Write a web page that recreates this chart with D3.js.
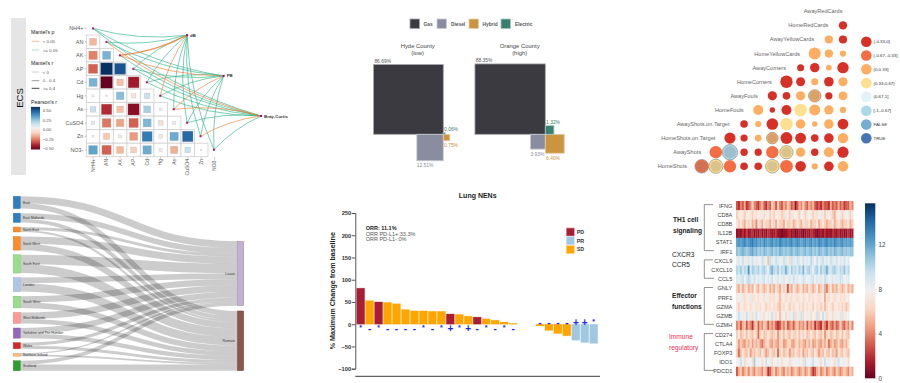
<!DOCTYPE html>
<html>
<head>
<meta charset="utf-8">
<script src="https://cdn.jsdelivr.net/npm/d3@7"></script>
<style>
  html, body { margin: 0; padding: 0; background: #fff; }
  svg { display: block; }
  text { font-family: "Liberation Sans", Arial, sans-serif; }
</style>
</head>
<body>
<div id="chart"></div>
<script>
// ---- panel A: correlation matrix with mantel links
const envNames = ["NH4+", "AN", "AK", "AP", "Cd", "Hg", "As", "CuSO4", "Zn", "NO3-"];
const envCorr = [
  [],
  [-0.2],
  [-0.3, 0.28],
  [-0.36, 0.6, 0.52],
  [0.28, -0.6, -0.18, -0.5],
  [0.02, 0.01, 0.25, -0.08, 0.13],
  [0.13, -0.46, -0.18, -0.54, 0.2, 0.03],
  [0.05, -0.32, -0.24, -0.36, 0.27, -0.09, 0.04],
  [-0.01, -0.16, -0.04, -0.26, 0.42, -0.06, 0.3, 0.47],
  [0.32, -0.36, -0.2, -0.14, 0.3, 0.04, -0.22, 0.13, 0.01]
];
const mantelTargets = ["dB", "PB", "Bray-Curtis"];
// one row per env variable, one value per target
const mantelSignif = [
  [0, 0, 0], [0, 0, 1], [1, 1, 0], [0, 0, 0], [0, 0, 0],
  [1, 0, 0], [0, 1, 1], [0, 0, 0], [0, 0, 1], [0, 0, 0]
];
const mantelR = [
  [0.2, 0.2, 0.2], [0.2, 0.2, 0.2], [0.45, 0.2, 0.2], [0.2, 0.2, 0.2], [0.2, 0.2, 0.2],
  [0.2, 0.2, 0.2], [0.2, 0.2, 0.3], [0.2, 0.2, 0.2], [0.2, 0.2, 0.3], [0.2, 0.2, 0.2]
];
const mantelPLabels = ["< 0.05", ">= 0.05"];
const mantelRLabels = ["< 0", "0 - 0.4", ">= 0.4"];
const pearsonTicks = [0.5, 0.25, 0, -0.25, -0.5];

// ---- panel B: vehicle share squares
const fuelTypes = ["Gas", "Diesel", "Hybrid", "Electric"];
const fuelColors = ["#3a3a40", "#8a8d9f", "#cc9440", "#3a8070"];
const countyNames = [["Hyde County", "(low)"], ["Orange County", "(high)"]];
const hydeShares = [86.69, 12.51, 0.75, 0.06];
const orangeShares = [88.35, 3.93, 6.40, 1.32];

// ---- panel C: match stats correlogram
const statNames = ["AwayRedCards", "HomeRedCards", "AwayYellowCards", "HomeYellowCards", "AwayCorners", "HomeCorners",
  "AwayFouls", "HomeFouls", "AwayShots.on.Target", "HomeShots.on.Target", "AwayShots", "HomeShots"];
const statClassLabels = ["(-0.33,0]", "(-0.67,-0.33]", "(0,0.33]", "(0.33,0.67]", "(0.67,1]", "[-1,-0.67]", "FALSE", "TRUE"];
const statClassColors = ["#d73027", "#f46d43", "#fdae61", "#fee090", "#e0f3f8", "#abd9e9", "#74add1", "#4575b4"];
// listed from the rightmost column to the left
const statClass = [
  [],
  [0],
  [0, 2],
  [2, 2, 2],
  [0, 2, 0, 0],
  [2, 0, 2, 0, 0],
  [2, 0, 2, 2, 0, 0],
  [2, 2, 2, 3, 0, 0, 2],
  [0, 2, 2, 2, 3, 0, 2, 0],
  [2, 0, 0, 0, 0, 2, 2, 0, 0],
  [0, 2, 0, 2, 3, 1, 0, 0, 5, 1],
  [2, 0, 2, 0, 1, 3, 0, 0, 1, 3, 1]
];
const statStrength = [
  [],
  [42],
  [41, 41],
  [31, 41, 60],
  [57, 29, 47, 35],
  [46, 48, 35, 45, 62],
  [44, 36, 62, 46, 38, 46],
  [31, 46, 55, 63, 50, 27, 50],
  [54, 48, 27, 47, 63, 58, 31, 38],
  [52, 48, 38, 54, 60, 58, 34, 36, 56],
  [56, 50, 37, 47, 66, 62, 36, 37, 77, 62],
  [52, 48, 31, 53, 64, 68, 38, 38, 62, 71, 68]
];
const statMarked = ["6-2", "9-5", "10-4", "10-8", "11-5", "11-9", "11-10"];

// ---- panel D: referendum flows
const regionNames = ["East", "East Midlands", "North East", "North West", "South East", "London", "South West",
  "West Midlands", "Yorkshire and The Humber", "Wales", "Northern Ireland", "Scotland"];
const regionColors = ["#2f7fc0", "#2f7fc0", "#ff8c2a", "#ff8c2a", "#98df8a", "#aec7e8", "#98df8a",
  "#ff9896", "#9467bd", "#d62728", "#ffbb78", "#2ca02c"];
const leaveVotes = [1880, 1475, 778, 1966, 2567, 1513, 1669, 1755, 1581, 855, 349, 1018];
const remainVotes = [1448, 1033, 563, 1699, 2391, 2264, 1503, 1207, 1159, 772, 441, 1662];
const voteSides = ["Leave", "Remain"];
const voteColors = ["#c5b0d5", "#8c564b"];

// ---- panel E: waterfall
const changeValues = [81, 53, 50, 49, 46, 33, 30, 30, 29, 29, 23, 22, 18, 16, 12, 9, 5, 2, 0, 0, -4, -14, -21, -26, -36, -41, -43];
const changeResponse = ["PD", "SD", "PD", "SD", "SD", "SD", "SD", "SD", "SD", "SD", "PD", "SD", "SD", "PD", "SD", "SD", "SD", "SD",
  "SD", "SD", "SD", "SD", "SD", "SD", "PR", "PR", "PR"];
const changeMarks = ["*", "-", "*", "-", "-", "-", "-", "*", "-", "*", "+", "*", "+", "-", "*", "-", "*", "-", "", "", "-", "-", "-", "-", "+", "+", "*"];
const responseTypes = ["PD", "PR", "SD"];
const responseColors = ["#ab1c35", "#a0c8e0", "#ffa500"];
const changeTicks = [250, 200, 150, 100, 50, 0, -50, -100];
const orrNotes = ["ORR: 11.1%", "ORR PD-L1+:33.3%", "ORR PD-L1-:0%"];

// ---- panel F: expression heatmap
const geneNames = ["IFNG", "CD8A", "CD8B", "IL12B", "STAT1", "IRF1", "CXCL9", "CXCL10", "CCL5", "GNLY", "PRF1", "GZMA", "GZMB", "GZMH", "CD274", "CTLA4", "FOXP3", "IDO1", "PDCD1"];
const geneExpression = [
  [3,2,4,3,5,2, 3,4,6,4,3,2, 4,5,3,2,4,3, 6,5,3,6,4,3, 5,4,6,5,3,4, 1,3,5,4,6,4, 3,5,4,5,3,2, 3,2,4,3,3,2, 5,3,4,3,5,3, 4,2,3,3,5,4],
  [6,7,7.5,7,6,7, 7.5,7,6,7,6.5,7.5, 7,8.5,6.5,7,7.5,6, 7,6,7.5,7,7,6, 6.5,7,8,6,7,7, 7.5,7,6,8,7,6, 7,8,7,6,7,6.5, 8,7,8.5,6,7,7.5, 7,6,5,7,8,7, 6,7,8,8.5,6,7],
  [7,6,7,6,5,7, 6,7,5,6,4,7, 6,5,7,6,6,5, 7,6,5,7,6,6, 5,7,6,6,7,5, 6,7,6,5,7,6, 6,7,5,6,6,7, 5,6,7,6,5,6, 6,7,5,6,7,6, 5,6,6,7,5,6],
  [1,1.5,1,2,1,2.5, 1,1.5,2,1,1.5,1, 2,1,1.5,1,2,1.5, 1,1.5,2,1,1,0.5, 1,1,1.5,2,1,1.5, 0.5,1,1.5,1,0.5,1, 1.5,1,2,1.5,1,0.5, 1,1.5,1,2,1,1.5, 1,2,1.5,1,2,1, 1.5,1,1,2,1,1.5],
  [12,12.5,12,12.5,13,12, 12.5,13,13.5,12.5,13,12, 12.5,12,13,12.5,12,12.5, 13,12,12.5,12,13,12.5, 12,12.5,12,12.5,13,12, 12.5,13,12.5,12,12.5,13, 12,12.5,13,12,12.5,12, 13,12.5,12,12.5,13,12, 12.5,12,13,12.5,12,12.5, 13,12,12.5,12,12.5,12],
  [11,10.5,11,11.5,11,10.5, 11,11.5,12,11,11.5,10.5, 11,10.5,11.5,11,10.5,11, 11.5,10.5,11,10.5,11.5,11, 10.5,11,10.5,11,11.5,10.5, 11,11.5,11,10.5,11,11.5, 10.5,11,11.5,10.5,11,10.5, 11.5,11,10.5,11,11.5,10.5, 11,10.5,11.5,11,10.5,11, 11.5,10.5,11,10.5,11,11],
  [8.5,9,7.5,9.5,8.5,7, 9,8.5,9.5,7.5,9,8.5, 7.5,9.5,9,8,5.5,9.5, 9,8.5,9.5,9,8.5,7.5, 9.5,9,8.5,6.5,9.5,9, 8.5,9.5,9,7.5,9.5,8.5, 9,8.5,10,9,7.5,9.5, 8.5,9,9.5,8.5,9,7.5, 9.5,9,8.5,9.5,7.5,9, 8.5,9.5,8,9],
  [10,9.5,10.5,9,10,9.5, 12.5,9,10.5,10,9.5,10.5, 9,10,10.5,9.5,8.5,10.5, 11.5,10,9.5,10.5,9,10, 9.5,11.5,10,8.5,10.5,9.5, 10,9,10.5,9.5,11.5,9, 10,10.5,9.5,8.5,10,10.5, 9,10.5,9.5,10,11.5,9.5, 9,10,10.5,9.5,9,10, 9.5,11,9,10],
  [9,8.5,9,9.5,8,9, 10,9,8.5,9.5,8,9, 8.5,9,9.5,8,9,8.5, 9.5,8,8.5,9,8,8.5, 9,7.5,8.5,9,8,9.5, 8.5,9,8,8.5,9.5,9, 8,8.5,9,9.5,8,9, 8.5,9,8,9.5,9,8, 8.5,9,7.5,9,8.5,9.5, 9,8,8.5,9],
  [6,5,7,5,6,7, 5,6,5,8,6,5, 7,6,5,6,7,5, 6,5,7,6,5,7, 6,7,3,6,5,7, 6,5,6,7,5,6, 5,7,6,5,6,7, 5,6,9,5,4,6, 7,5,6,5,7,6, 5,6,7,5,6,5],
  [7,7.5,8.5,7,6.5,7.5, 7,8.5,6.5,7,7.5,6.5, 7.5,7,6.5,8.5,7,6.5, 7,6.5,7.5,7,5.5,7, 7.5,6.5,7,7,6.5,7.5, 7,6.5,7,7.5,6.5,7, 7.5,6.5,7,6.5,7.5,7, 6.5,7,7.5,5,7,6.5, 7.5,7,6.5,7,7.5,6.5, 7,6.5,7.5,7],
  [7,6,7.5,7,6.5,7, 7.5,6.5,7,8.5,6.5,7, 6.5,7.5,7,6,7,6.5, 7.5,6.5,7,6,5.5,7, 6.5,7.5,7,6,7,6.5, 7,7.5,6.5,7,6,7.5, 6.5,7,7,6,7.5,6.5, 7,6,7,5.5,6.5,7.5, 7,6,7,7.5,6.5,7, 6,7,5.5,6.5],
  [8,9.5,8.5,7,8,9.5, 8.5,7,6.5,8.5,9.5,8, 7,8.5,6.5,8,7,8.5, 9.5,7,6.5,8,5.5,7, 8,6.5,8.5,7,8,9.5, 6.5,7,8.5,9.5,6.5,8, 7,8.5,6.5,8,7,9.5, 6.5,8,9.5,8.5,6.5,7, 8,6.5,8.5,7,8,9, 6.5,7,8.5,8],
  [4,5,3,5,6,3, 5,4,2,5,6,3, 5,4,6,5,3,5, 4,5,3,2,3,5, 4,6,3,4,5,3, 5,6,4,5,4,6, 3,5,4,5,2,4, 3,2,5,4,2,5, 4,3,5,3,4,6, 4,3,5,4,6,4],
  [6,7,5.5,6,7,5.5, 7,6,5.5,7,6,3.5, 6,7,5.5,6,7,6, 5.5,6,7,4.5,6,7, 5.5,7,6,5.5,7,6, 6,7,5.5,7,6,7, 5.5,6,7,6,5.5,7, 6,5.5,7,4.5,6,7, 5.5,6,7,5.5,6,7, 5.5,7,6,5.5],
  [6.5,4.5,6,5,4.5,6, 5,6.5,4.5,6,5,6, 4.5,3.5,5,6,6.5,5, 4.5,6,5,4.5,6,6.5, 4.5,5,6,6.5,5,4.5, 6,6.5,5,6,5,4.5, 6,5,6.5,4.5,5,6, 5,4.5,6,5,6.5,3.5, 5,6,4.5,5,6.5,5, 4.5,6,5,6.5],
  [6,3.5,5.5,7,6,5.5, 7,4.5,6,5.5,7,6, 5.5,7,6,4.5,5.5,7, 6,5.5,7,3.5,6,7, 5.5,6,7,4.5,6,5.5, 7,6,5.5,7,4.5,6, 5.5,7,6,5.5,7,6, 4.5,6,5.5,7,6,5.5, 7,5.5,6,4.5,7,6, 5.5,7,6,5.5],
  [8,7.5,9.5,8,6.5,8.5, 7.5,8,6.5,10.5,7.5,8.5, 8,6.5,7.5,9.5,8,8.5, 6.5,8,7.5,8.5,8,6.5, 8,7.5,8,6.5,8.5,8, 7.5,8,8.5,7.5,6.5,9.5, 8,7.5,8.5,9.5,8,7.5, 8.5,6.5,8,9.5,7.5,8.5, 8,7.5,6.5,8.5,9.5,8, 7.5,8.5,8,6.5],
  [3,5,6,4,5,6, 4,6,5,4,6,5, 5,4,6,5,2,3, 5,6,4,5,6,5, 4,6,5,6,4,5, 6,5,4,5,6,4, 5,6,4,2,3,5, 6,4,5,6,4,5, 6,5,4,6,5,4, 5,6,5,4,6,5]
];
const geneGroups = [
  { from: "IFNG", to: "IRF1", lines: ["TH1 cell", "signaling"] },
  { from: "CXCL9", to: "CCL5", lines: ["CXCR3", "CCR5"] },
  { from: "GNLY", to: "GZMH", lines: ["Effector", "functions"] },
  { from: "CD274", to: "PDCD1", lines: ["Immune", "regulatory"] }
];
const expressionTicks = [0, 4, 8, 12];

const svg = d3.select("#chart")
  .append("svg")
    .attr("width", 900)
    .attr("height", 383);

// ================ panel A ================
const panelA = svg.append("g");

panelA.append("rect")
  .attr("x", 11).attr("y", 18)
  .attr("width", 15).attr("height", 157)
  .attr("fill", "#e5e5e5");
panelA.append("text")
  .attr("transform", "translate(22.5,98)rotate(-90)")
  .attr("text-anchor", "middle")
  .style("font-size", "9.5px")
  .style("fill", "#111")
  .text("ECS");

const rowA = d3.scaleBand().domain(envNames).range([21.5, 156.7]);
const colA = d3.scaleBand().domain(envNames).range([86.3, 221.5]);
const pearson = v => d3.interpolateRdBu((v + 0.6) / 1.2);
const cellSize = d3.scaleSqrt().domain([0, 0.6]).range([0, 12]);

envCorr.forEach((cells, i) => {
  const cellG = panelA.selectAll(null)
    .data(cells)
    .join("g")
      .attr("transform", (d, j) => "translate(" + colA(envNames[j]) + "," + rowA(envNames[i]) + ")");
  cellG.append("rect")
    .attr("width", colA.bandwidth())
    .attr("height", rowA.bandwidth())
    .attr("fill", "#fff")
    .attr("stroke", "#cfcfcf")
    .attr("stroke-width", 0.8);
  cellG.append("rect")
    .attr("x", d => (colA.bandwidth() - cellSize(Math.abs(d))) / 2)
    .attr("y", d => (rowA.bandwidth() - cellSize(Math.abs(d))) / 2)
    .attr("width", d => cellSize(Math.abs(d)))
    .attr("height", d => cellSize(Math.abs(d)))
    .attr("fill", d => pearson(d))
    .attr("stroke", "#aaa")
    .attr("stroke-opacity", 0.5)
    .attr("stroke-width", 0.5);
});

const axisLeftA = panelA.append("g")
  .attr("transform", "translate(86.3,0)")
  .call(d3.axisLeft(rowA).tickSize(1.5).tickPadding(1.5));
const axisBottomA = panelA.append("g")
  .attr("transform", "translate(0,157)")
  .call(d3.axisBottom(colA).tickSize(1.5));
axisLeftA.selectAll("text").style("font-size", "5.4px").style("fill", "#555");
axisBottomA.selectAll("text")
  .attr("transform", "translate(0,2)rotate(-90)")
  .attr("text-anchor", "end")
  .attr("x", 0).attr("y", 0).attr("dy", "0.35em")
  .style("font-size", "5px").style("fill", "#555");
panelA.selectAll(".domain").remove();
panelA.selectAll(".tick line").attr("stroke", "#666").attr("stroke-width", 0.4);

const nodeX = d3.scaleLinear().domain([0, 9]).range([93, 214]);
const nodeY = d3.scaleLinear().domain([0, 9]).range([28.4, 149.7]);
// target nodes sit on the same index grid as the env variables
const targetSpot = { "dB": [7, 0.5], "PB": [9.72, 3.52], "Bray-Curtis": [12.5, 6.5] };
const linkWidth = d3.scaleThreshold().domain([0, 0.4]).range([0.4, 0.75, 1.2]);
const bendFlip = new Set(["AN-dB", "AK-dB", "As-Bray-Curtis"]);

const mantelLinks = [];
envNames.forEach((env, i) => {
  mantelTargets.forEach((t, j) => {
    mantelLinks.push({ env, target: t, i, signif: mantelSignif[i][j], r: mantelR[i][j] });
  });
});
mantelLinks.sort((a, b) => a.signif - b.signif);

const linkPath = d => {
  const x0 = nodeX(d.i), y0 = nodeY(d.i);
  const x1 = nodeX(targetSpot[d.target][0]), y1 = nodeY(targetSpot[d.target][1]);
  const dx = x1 - x0, dy = y1 - y0;
  let side = dy < 0 ? -1 : 1;
  if (bendFlip.has(d.env + "-" + d.target)) side = -side;
  const p = d3.path();
  p.moveTo(x0, y0);
  p.quadraticCurveTo((x0 + x1) / 2 - dy * 0.1 * side, (y0 + y1) / 2 + dx * 0.1 * side, x1, y1);
  return p.toString();
};

panelA.selectAll(".mantel")
  .data(mantelLinks)
  .join("path")
    .attr("class", "mantel")
    .attr("d", linkPath)
    .attr("fill", "none")
    .attr("stroke", d => d.signif ? "#ea7f33" : "#2fb48c")
    .attr("stroke-opacity", 0.85)
    .attr("stroke-width", d => linkWidth(d.r));

panelA.selectAll(".envDot")
  .data(envNames)
  .join("rect")
    .attr("class", "envDot")
    .attr("x", (d, i) => nodeX(i) - 1)
    .attr("y", (d, i) => nodeY(i) - 1)
    .attr("width", 2).attr("height", 2)
    .attr("fill", "#c01078");
panelA.selectAll(".targetDot")
  .data(mantelTargets)
  .join("rect")
    .attr("class", "targetDot")
    .attr("x", d => nodeX(targetSpot[d][0]) - 1)
    .attr("y", d => nodeY(targetSpot[d][1]) - 1)
    .attr("width", 2).attr("height", 2)
    .attr("fill", "#8a10a0");
panelA.selectAll(".targetLabel")
  .data(mantelTargets)
  .join("text")
    .attr("class", "targetLabel")
    .attr("x", d => nodeX(targetSpot[d][0]) + 3)
    .attr("y", d => nodeY(targetSpot[d][1]))
    .attr("dy", "0.35em")
    .style("font-size", "4.4px")
    .style("font-weight", "bold")
    .style("fill", "#333")
    .text(d => d);

// legends of panel A
const legendTitle = (txt, y) => panelA.append("text")
  .attr("x", 31).attr("y", y).attr("dy", "0.35em")
  .style("font-size", "5.2px").style("fill", "#222").text(txt);
const legendText = (txt, y) => panelA.append("text")
  .attr("x", 42.7).attr("y", y).attr("dy", "0.35em")
  .style("font-size", "4.4px").style("fill", "#555").text(txt);
const legendLine = (y, color, w) => panelA.append("line")
  .attr("x1", 31.7).attr("x2", 39.3).attr("y1", y).attr("y2", y)
  .attr("stroke", color).attr("stroke-width", w);

legendTitle("Mantel's p", 32.3);
legendLine(41.3, "#f0a070", 0.7);
legendText(mantelPLabels[0], 41.3);
legendLine(50, "#90d8b8", 0.7);
legendText(mantelPLabels[1], 50);
legendTitle("Mantel's r", 63);
legendLine(72, "#d0d0d0", 1);
legendText(mantelRLabels[0], 72);
legendLine(80.7, "#9a9a9a", 1);
legendText(mantelRLabels[1], 80.7);
legendLine(88.3, "#444", 1);
legendText(mantelRLabels[2], 88.3);
legendTitle("Pearson's r", 101.7);

const defs = svg.append("defs");
const verticalRamp = (id, interp) => {
  const grad = defs.append("linearGradient")
    .attr("id", id)
    .attr("x1", 0).attr("x2", 0).attr("y1", 1).attr("y2", 0);
  grad.selectAll("stop")
    .data(d3.range(0, 1.001, 0.1))
    .join("stop")
      .attr("offset", d => d)
      .attr("stop-color", d => interp(d));
};
verticalRamp("pearsonRamp", d3.interpolateRdBu);
verticalRamp("exprRamp", d3.interpolateRdBu);

const pearsonY = d3.scaleLinear().domain([-0.5, 0.5]).range([148.7, 110.7]);
panelA.append("rect")
  .attr("x", 31).attr("y", pearsonY(0.6))
  .attr("width", 9).attr("height", pearsonY(-0.6) - pearsonY(0.6) - 3)
  .attr("fill", "url(#pearsonRamp)");
panelA.selectAll(".pearsonTick")
  .data(pearsonTicks)
  .join("text")
    .attr("class", "pearsonTick")
    .attr("x", 42.7)
    .attr("y", d => pearsonY(d))
    .attr("dy", "0.35em")
    .style("font-size", "4.4px")
    .style("fill", "#555")
    .text(d => d3.format(".2f")(d));

// ================ panel B ================
const panelB = svg.append("g");
const shareSide = d3.scaleSqrt().domain([0, 100]).range([0, 74.86]);
const tint = c => d3.interpolateRgb(c, "#fff")(0.55);

panelB.selectAll(".fuelSwatch")
  .data(fuelTypes)
  .join("rect")
    .attr("class", "fuelSwatch")
    .attr("x", (d, i) => [410, 437, 469, 501][i])
    .attr("y", 19)
    .attr("width", 9.5).attr("height", 9.5)
    .attr("fill", (d, i) => fuelColors[i])
    .attr("stroke", (d, i) => tint(fuelColors[i]))
    .attr("stroke-width", 0.8);
panelB.selectAll(".fuelName")
  .data(fuelTypes)
  .join("text")
    .attr("class", "fuelName")
    .attr("x", (d, i) => [423.5, 451, 482.5, 515][i])
    .attr("y", 24)
    .attr("dy", "0.35em")
    .style("font-size", "4.8px")
    .style("font-weight", "bold")
    .style("fill", "#555")
    .text(d => d);

const drawCounty = (shares, title, cx, cy, titleX) => {
  const g = panelB.append("g");
  g.selectAll(".countyTitle")
    .data(title)
    .join("text")
      .attr("class", "countyTitle")
      .attr("x", titleX)
      .attr("y", (d, i) => 46 + i * 6.6)
      .attr("dy", "0.35em")
      .attr("text-anchor", "middle")
      .style("font-size", "5.9px")
      .style("fill", "#444")
      .text(d => d);
  // gas up-left, diesel down-left, hybrid down-right, electric up-right
  const place = (d, i) => {
    const s = shareSide(d);
    return { x: (i < 2) ? cx - s : cx, y: (i === 0 || i === 3) ? cy - s : cy, s };
  };
  g.selectAll(".shareSquare")
    .data(shares)
    .join("rect")
      .attr("class", "shareSquare")
      .attr("x", (d, i) => place(d, i).x)
      .attr("y", (d, i) => place(d, i).y)
      .attr("width", d => shareSide(d))
      .attr("height", d => shareSide(d))
      .attr("fill", (d, i) => fuelColors[i])
      .attr("stroke", (d, i) => tint(fuelColors[i]))
      .attr("stroke-width", 0.8);
  g.selectAll(".shareLabel")
    .data(shares)
    .join("text")
      .attr("class", "shareLabel")
      .attr("x", (d, i) => place(d, i).x + (i === 1 ? 0 : 0.8))
      .attr("y", (d, i) => {
        const p = place(d, i);
        return (i === 0 || i === 3) ? p.y - 3.2 : p.y + p.s + 5;
      })
      .attr("dy", "0.35em")
      .style("font-size", "4.9px")
      .style("fill", (d, i) => i === 0 ? "#555" : fuelColors[i])
      .text(d => d3.format(".2f")(d) + "%");
};
drawCounty(hydeShares, countyNames[0], 443.3, 134.3, 417.7);
drawCounty(orangeShares, countyNames[1], 545.3, 134.3, 519.7);

// ================ panel C ================
const panelC = svg.append("g");
const statCol = d3.scaleLinear().domain([0, 10]).range([843, 701.7]);
const statRow = d3.scaleLinear().domain([0, 11]).range([11.3, 166.3]);
const statRadius = d3.scaleLinear().domain([0, 100]).range([0, 10]);

panelC.selectAll(".statName")
  .data(statNames)
  .join("text")
    .attr("class", "statName")
    .attr("x", (d, i) => statCol(i) - 0.5)
    .attr("y", (d, i) => statRow(i))
    .attr("dy", "0.35em")
    .attr("text-anchor", "end")
    .style("font-size", "5.6px")
    .style("fill", "#666")
    .text(d => d);

statClass.forEach((cells, i) => {
  cells.forEach((c, j) => {
    const marked = statMarked.includes(i + "-" + j);
    const r = statRadius(statStrength[i][j]);
    panelC.append("circle")
      .attr("cx", statCol(j)).attr("cy", statRow(i)).attr("r", r)
      .attr("fill", statClassColors[c])
      .attr("stroke", marked ? "#8c8c8c" : "none")
      .attr("stroke-width", 0.7);
    if (marked) {
      panelC.append("circle")
        .attr("cx", statCol(j)).attr("cy", statRow(i)).attr("r", r * 0.78)
        .attr("fill", "#7a7a7a")
        .attr("fill-opacity", 0.28);
    }
  });
});

const statLegendY = d3.scaleLinear().domain([0, 7]).range([41.7, 138.3]);
panelC.selectAll(".statSwatch")
  .data(statClassLabels)
  .join("circle")
    .attr("class", "statSwatch")
    .attr("cx", 866.3)
    .attr("cy", (d, i) => statLegendY(i))
    .attr("r", 5.3)
    .attr("fill", (d, i) => statClassColors[i]);
panelC.selectAll(".statLegend")
  .data(statClassLabels)
  .join("text")
    .attr("class", "statLegend")
    .attr("x", 873.5)
    .attr("y", (d, i) => statLegendY(i))
    .attr("dy", "0.35em")
    .style("font-size", "4.4px")
    .style("fill", "#333")
    .text(d => d);

// ================ panel D ================
const panelD = svg.append("g");
const votePx = d3.scaleLinear().domain([0, d3.sum(leaveVotes)]).range([0, 64.4]);
const sankeyTop = 196.3, sankeyBottom = 370.7;
const regionTotals = regionNames.map((d, i) => leaveVotes[i] + remainVotes[i]);
const regionGap = (sankeyBottom - sankeyTop - votePx(d3.sum(regionTotals))) / (regionNames.length - 1);

let yCursor = sankeyTop;
const regionNodes = regionNames.map((name, i) => {
  const node = { name, i, y0: yCursor, y1: yCursor + votePx(regionTotals[i]) };
  yCursor = node.y1 + regionGap;
  return node;
});
const sideNodes = [
  { name: voteSides[0], y0: 241.3, y1: 241.3 + votePx(d3.sum(leaveVotes)) },
  { name: voteSides[1], y0: sankeyBottom - votePx(d3.sum(remainVotes)), y1: sankeyBottom }
];

const flows = [];
const sideCursor = sideNodes.map(d => d.y0);
regionNodes.forEach(n => {
  const w0 = votePx(leaveVotes[n.i]), w1 = votePx(remainVotes[n.i]);
  flows.push({ w: w0, sy: n.y0 + w0 / 2, ty: sideCursor[0] + w0 / 2 });
  flows.push({ w: w1, sy: n.y0 + w0 + w1 / 2, ty: sideCursor[1] + w1 / 2 });
  sideCursor[0] += w0;
  sideCursor[1] += w1;
});

const flowPath = d3.linkHorizontal()
  .source(d => [20.3, d.sy])
  .target(d => [237.3, d.ty]);
panelD.selectAll(".flow")
  .data(flows)
  .join("path")
    .attr("class", "flow")
    .attr("d", flowPath)
    .attr("fill", "none")
    .attr("stroke", "#000")
    .attr("stroke-opacity", 0.2)
    .attr("stroke-width", d => d.w);

panelD.selectAll(".regionNode")
  .data(regionNodes)
  .join("rect")
    .attr("class", "regionNode")
    .attr("x", 13.3)
    .attr("y", d => d.y0)
    .attr("width", 7)
    .attr("height", d => d.y1 - d.y0)
    .attr("fill", d => regionColors[d.i])
    .attr("stroke", d => d3.rgb(regionColors[d.i]).darker(0.6))
    .attr("stroke-width", 0.4);
panelD.selectAll(".regionName")
  .data(regionNodes)
  .join("text")
    .attr("class", "regionName")
    .attr("x", 23)
    .attr("y", d => (d.y0 + d.y1) / 2)
    .attr("dy", "0.35em")
    .style("font-size", "3.4px")
    .style("fill", "#333")
    .text(d => d.name);
panelD.selectAll(".sideNode")
  .data(sideNodes)
  .join("rect")
    .attr("class", "sideNode")
    .attr("x", 237.3)
    .attr("y", d => d.y0)
    .attr("width", 6.4)
    .attr("height", d => d.y1 - d.y0)
    .attr("fill", (d, i) => voteColors[i])
    .attr("stroke", (d, i) => d3.rgb(voteColors[i]).darker(1))
    .attr("stroke-width", 0.4);
panelD.selectAll(".sideName")
  .data(sideNodes)
  .join("text")
    .attr("class", "sideName")
    .attr("x", 235)
    .attr("y", d => (d.y0 + d.y1) / 2)
    .attr("dy", "0.35em")
    .attr("text-anchor", "end")
    .style("font-size", "3.6px")
    .style("fill", "#333")
    .text(d => d.name);

// ================ panel E ================
const panelE = svg.append("g");
const xE = d3.scaleBand()
  .domain(changeValues.map((d, i) => i))
  .range([355.7, 598.7])
  .padding(0.11);
const yE = d3.scaleLinear().domain([-100, 250]).range([368.7, 213]);
const responseColor = d3.scaleOrdinal().domain(responseTypes).range(responseColors);

panelE.append("text")
  .attr("x", 477.7).attr("y", 195.7).attr("dy", "0.35em")
  .attr("text-anchor", "middle")
  .style("font-size", "7px").style("font-weight", "bold").style("fill", "#222")
  .text("Lung NENs");

panelE.selectAll(".changeBar")
  .data(changeValues)
  .join("rect")
    .attr("class", "changeBar")
    .attr("x", (d, i) => xE(i))
    .attr("y", d => yE(Math.max(d, 0)))
    .attr("width", xE.bandwidth())
    .attr("height", d => Math.abs(yE(d) - yE(0)))
    .attr("fill", (d, i) => responseColor(changeResponse[i]))
    .attr("stroke", (d, i) => d === 0 ? "#ddd" : responseColor(changeResponse[i]))
    .attr("stroke-opacity", d => d === 0 ? 1 : 0.3)
    .attr("stroke-width", 0.8);

// stars are set smaller than the plus and minus signs
panelE.selectAll(".changeMark")
  .data(changeValues)
  .join("text")
    .attr("class", "changeMark")
    .attr("x", (d, i) => xE(i) + xE.bandwidth() / 2)
    .attr("y", (d, i) => (i < 20 ? yE(0) + 7.7 : yE(0) + 1.5) - (changeMarks[i] === "*" ? 1.8 : 0))
    .attr("text-anchor", "middle")
    .style("font-size", (d, i) => changeMarks[i] === "*" ? "7px" : "10px")
    .style("font-weight", "bold")
    .style("fill", "#2222ee")
    .text((d, i) => changeMarks[i]);

const axisE = panelE.append("g")
  .attr("transform", "translate(355.3,0)")
  .call(d3.axisLeft(yE).tickValues(changeTicks).tickSize(3.5).tickPadding(0.5));
axisE.selectAll("text").style("font-size", "5.8px").style("font-weight", "bold").style("fill", "#333");
axisE.selectAll(".domain, .tick line").attr("stroke", "#444").attr("stroke-width", 0.9);

panelE.append("line")
  .attr("x1", 355.3).attr("x2", 600)
  .attr("y1", 376.3).attr("y2", 376.3)
  .attr("stroke", "#222")
  .attr("stroke-width", 0.9);

panelE.append("text")
  .attr("transform", "translate(335,290.7)rotate(-90)")
  .attr("text-anchor", "middle")
  .style("font-size", "7.1px").style("font-weight", "bold").style("fill", "#222")
  .text("% Maximum Change from baseline");

panelE.selectAll(".orrNote")
  .data(orrNotes)
  .join("text")
    .attr("class", "orrNote")
    .attr("x", 365.7)
    .attr("y", (d, i) => 227.7 + i * 5.9)
    .attr("dy", "0.35em")
    .style("font-size", "5.5px")
    .style("font-weight", (d, i) => i === 0 ? "bold" : "normal")
    .style("fill", (d, i) => i === 0 ? "#222" : "#555")
    .text(d => d);

panelE.selectAll(".respSwatch")
  .data(responseTypes)
  .join("rect")
    .attr("class", "respSwatch")
    .attr("x", 566.3)
    .attr("y", (d, i) => 228 + i * 8.8)
    .attr("width", 8).attr("height", 8)
    .attr("fill", d => responseColor(d))
    .attr("stroke", d => tint(responseColor(d)))
    .attr("stroke-width", 0.6);
panelE.selectAll(".respName")
  .data(responseTypes)
  .join("text")
    .attr("class", "respName")
    .attr("x", 576.7)
    .attr("y", (d, i) => 232 + i * 8.8)
    .attr("dy", "0.35em")
    .style("font-size", "5.3px")
    .style("font-weight", "bold")
    .style("fill", "#333")
    .text(d => d);

// ================ panel F ================
const panelF = svg.append("g");
const heatRow = d3.scaleBand().domain(geneNames).range([201, 376]);
const heatCol = d3.scaleBand().domain(d3.range(geneExpression[0].length)).range([736, 853.3]);
const exprColor = v => d3.interpolateRdBu(v / 15.7);

geneExpression.forEach((vals, i) => {
  panelF.selectAll(null)
    .data(vals)
    .join("rect")
      .attr("x", (d, j) => heatCol(j))
      .attr("y", heatRow(geneNames[i]))
      .attr("width", heatCol.bandwidth() + 0.2)
      .attr("height", heatRow.bandwidth() + 0.2)
      .attr("fill", d => exprColor(d));
});

panelF.selectAll(".geneName")
  .data(geneNames)
  .join("text")
    .attr("class", "geneName")
    .attr("x", 732.3)
    .attr("y", d => heatRow(d) + heatRow.bandwidth() / 2)
    .attr("dy", "0.35em")
    .attr("text-anchor", "end")
    .style("font-size", "5.6px")
    .style("fill", "#444")
    .text(d => d);

panelF.selectAll(".geneBracket")
  .data(geneGroups)
  .join("path")
    .attr("class", "geneBracket")
    .attr("d", d => {
      const top = heatRow(d.from) + heatRow.bandwidth() / 2 - 1;
      const bot = heatRow(d.to) + heatRow.bandwidth() / 2 - 1;
      return "M713," + top + "H704.3V" + bot + "H714";
    })
    .attr("fill", "none")
    .attr("stroke", "#666")
    .attr("stroke-width", 0.7);

const groupSpots = [[673, 220], [672, 254.3], [672, 296], [669, 336.7]];
geneGroups.forEach((d, i) => {
  panelF.selectAll(null)
    .data(d.lines)
    .join("text")
      .attr("x", groupSpots[i][0])
      .attr("y", (t, k) => groupSpots[i][1] + k * 10.6)
      .attr("dy", "0.35em")
      .style("font-size", "6.6px")
      .style("font-weight", (i === 0 || i === 2) ? "bold" : "normal")
      .style("fill", i === 3 ? "#f0325a" : "#222")
      .text(t => t);
});

const exprY = d3.scaleLinear().domain([0, 15.7]).range([378.3, 203.3]);
panelF.append("rect")
  .attr("x", 865).attr("y", exprY(15.7))
  .attr("width", 10.3).attr("height", exprY(0) - exprY(15.7))
  .attr("fill", "url(#exprRamp)");
const axisF = panelF.append("g")
  .attr("transform", "translate(875.3,0)")
  .call(d3.axisRight(exprY).tickValues(expressionTicks).tickSize(1.5).tickPadding(1.8));
axisF.select(".domain").remove();
axisF.selectAll(".tick line").attr("stroke", "#888").attr("stroke-width", 0.4);
axisF.selectAll("text").style("font-size", "6.3px").style("fill", "#444");
</script>
</body>
</html>
